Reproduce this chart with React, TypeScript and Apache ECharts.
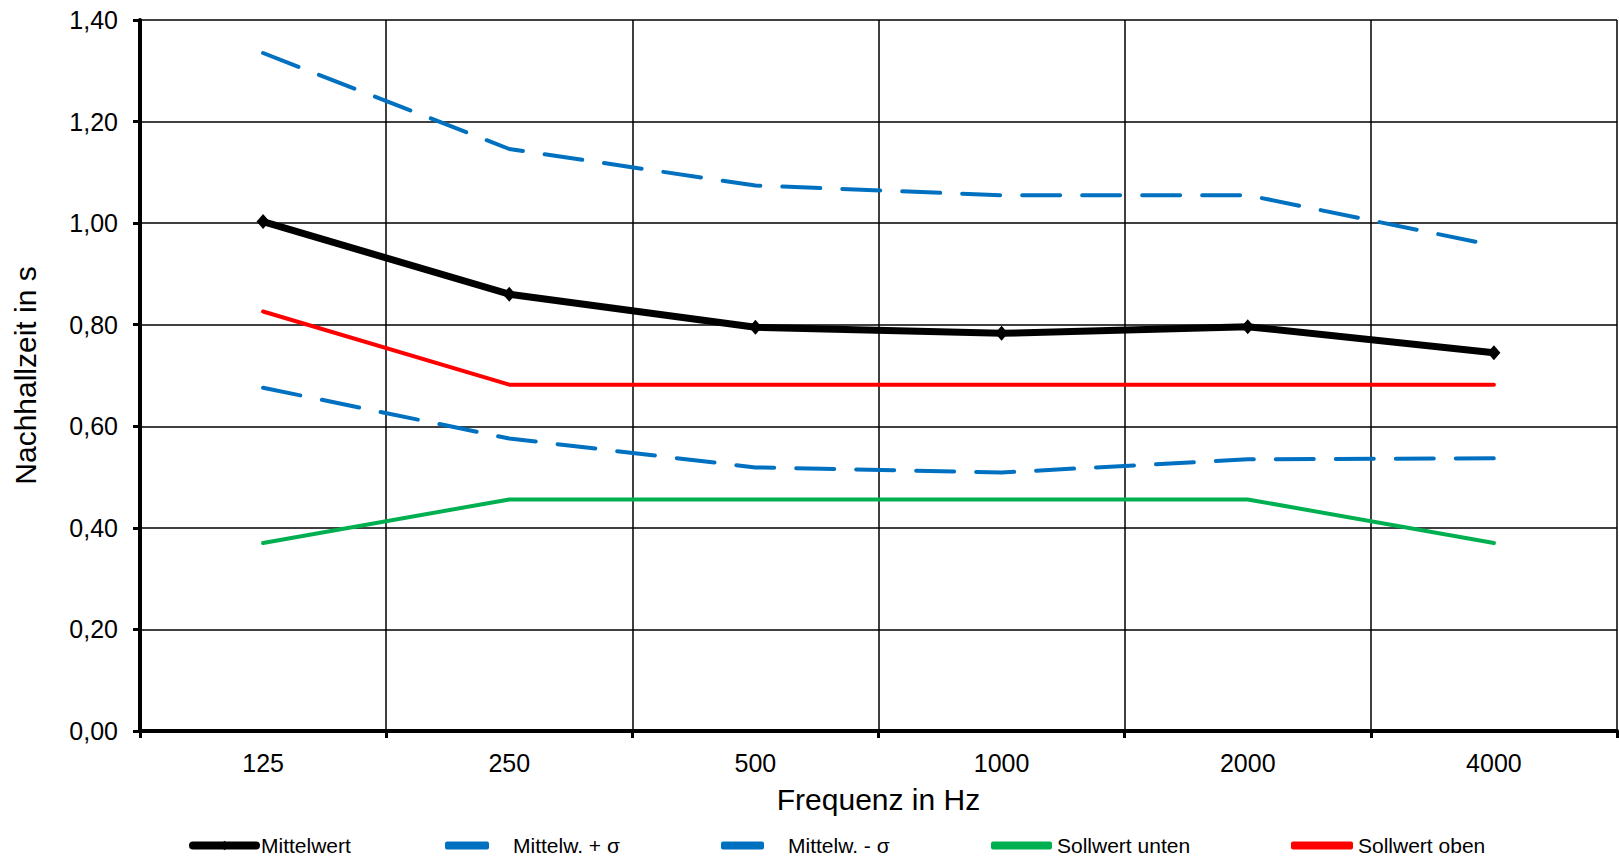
import React, { useEffect, useRef } from "react";
import * as echarts from "echarts";

const categories = ["125", "250", "500", "1000", "2000", "4000"];
const mittelwert = [1.003, 0.86, 0.795, 0.783, 0.796, 0.745];
const mittelPlus = [1.335, 1.146, 1.074, 1.055, 1.055, 0.956];
const mittelMinus = [0.676, 0.576, 0.519, 0.509, 0.535, 0.537];
const sollUnten = [0.37, 0.456, 0.456, 0.456, 0.456, 0.37];
const sollOben = [0.826, 0.682, 0.682, 0.682, 0.682, 0.682];

const FONT = "'Liberation Sans', Arial, sans-serif";

export default function App() {
  const ref = useRef<HTMLDivElement>(null);
  useEffect(() => {
    document.body.style.margin = "0";
    const chart = echarts.init(ref.current!, null, { renderer: "svg" });
    const textStyle = (textPad: number) => ({
      fontFamily: FONT,
      fontSize: 21,
      color: "#000",
      padding: [0, 0, 0, textPad],
    });
    const barLegend = (name: string, left: number, itemWidth: number, textPad: number) => ({
      show: true,
      data: [{ name, icon: "roundRect" }],
      left,
      top: 835,
      padding: 0,
      itemWidth,
      itemHeight: 8,
      itemGap: 0,
      textStyle: textStyle(textPad),
    });
    chart.setOption({
      animation: false,
      backgroundColor: "#fff",
      grid: { left: 140, top: 20, right: 2, bottom: 127, containLabel: false },
      legend: [
        {
          show: true,
          data: ["Mittelwert"],
          left: 189,
          top: 835,
          padding: 0,
          itemWidth: 63,
          itemHeight: 12,
          itemGap: 0,
          lineStyle: { width: 8, cap: "round" },
          textStyle: textStyle(0),
        },
        barLegend("Mittelw. + σ", 445, 44, 19),
        barLegend("Mittelw. - σ", 721, 43, 19),
        barLegend("Sollwert unten", 991, 61, 0),
        barLegend("Sollwert oben", 1291, 62, 0),
      ],
      xAxis: {
        type: "category",
        data: categories,
        boundaryGap: true,
        name: "Frequenz in Hz",
        nameLocation: "middle",
        nameGap: 53,
        nameTextStyle: { fontFamily: FONT, fontSize: 30, color: "#000" },
        axisLine: { lineStyle: { color: "#000", width: 4 } },
        axisTick: { show: true, alignWithLabel: false, length: 7, lineStyle: { color: "#000", width: 3 } },
        axisLabel: { fontFamily: FONT, fontSize: 25, color: "#000", margin: 19 },
        splitLine: { show: true, lineStyle: { color: "#000", width: 1.5 } },
      },
      yAxis: {
        type: "value",
        min: 0,
        max: 1.4,
        interval: 0.2,
        name: "Nachhallzeit in s",
        nameLocation: "middle",
        nameGap: 100,
        nameRotate: 90,
        nameTextStyle: { fontFamily: FONT, fontSize: 30, color: "#000" },
        axisLine: { show: true, lineStyle: { color: "#000", width: 4 } },
        axisTick: { show: true, length: 7, lineStyle: { color: "#000", width: 3 } },
        axisLabel: {
          fontFamily: FONT,
          fontSize: 25,
          color: "#000",
          margin: 22,
          formatter: (v: number) => v.toFixed(2).replace(".", ","),
        },
        splitLine: { show: true, lineStyle: { color: "#000", width: 1.5 } },
      },
      series: [
        {
          name: "Mittelw. + σ",
          type: "line",
          data: mittelPlus,
          symbol: "none",
          lineStyle: { color: "#0070C0", width: 4, type: [38, 22], cap: "round" },
          itemStyle: { color: "#0070C0" },
          z: 3,
        },
        {
          name: "Mittelw. - σ",
          type: "line",
          data: mittelMinus,
          symbol: "none",
          lineStyle: { color: "#0070C0", width: 4, type: [38, 22], cap: "round" },
          itemStyle: { color: "#0070C0" },
          z: 3,
        },
        {
          name: "Sollwert unten",
          type: "line",
          data: sollUnten,
          symbol: "none",
          lineStyle: { color: "#00B050", width: 4, cap: "round" },
          itemStyle: { color: "#00B050" },
          z: 3,
        },
        {
          name: "Sollwert oben",
          type: "line",
          data: sollOben,
          symbol: "none",
          lineStyle: { color: "#FF0000", width: 4, cap: "round" },
          itemStyle: { color: "#FF0000" },
          z: 3,
        },
        {
          name: "Mittelwert",
          type: "line",
          data: mittelwert,
          symbol: "diamond",
          symbolSize: [13, 15],
          showAllSymbol: true,
          lineStyle: { color: "#000", width: 7 },
          itemStyle: { color: "#000" },
          z: 4,
        },
      ],
    });
    return () => chart.dispose();
  }, []);
  return <div ref={ref} style={{ width: 1619, height: 858 }} />;
}
